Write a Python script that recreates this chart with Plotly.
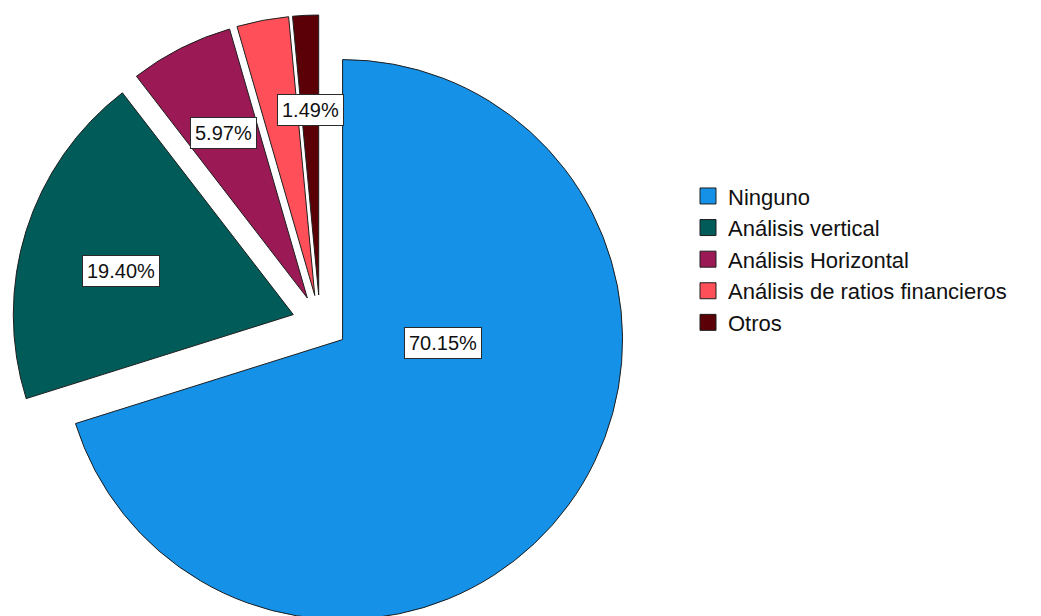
import math
import plotly.graph_objects as go

# Survey answers: which financial-analysis technique is used
categories = ["Ninguno", "Análisis vertical", "Análisis Horizontal",
              "Análisis de ratios financieros", "Otros"]
percentages = [70.15, 19.40, 5.97, 2.99, 1.49]
label_texts = ["70.15%", "19.40%", "5.97%", None, "1.49%"]

colors = ["#1591E8", "#005B59", "#9B1A55", "#FF4F58", "#5C0008"]
EDGE = "#1e1e1e"

# Figure / pie geometry
W, H = 1041, 631
M_TOP = 15
PULL = 0.1
DOMAIN_X = [0.0, 640 / W]

# Label placement inside each slice: (fraction across the slice angle, fraction of radius)
label_place = [(0.364, 0.36), (0.454, 0.635), (0.5, 0.66), None, (0.5, 0.66)]

fig = go.Figure()
fig.add_trace(go.Pie(
    labels=categories,
    values=percentages,
    sort=False,
    direction="clockwise",
    rotation=0,
    pull=[PULL] * len(categories),
    textinfo="none",
    hoverinfo="label+percent",
    marker=dict(colors=colors, line=dict(color=EDGE, width=1)),
    domain=dict(x=DOMAIN_X, y=[0, 1]),
    showlegend=False,
))

# Legend entries with larger square swatches
for name, col in zip(categories, colors):
    fig.add_trace(go.Scatter(
        x=[None], y=[None], mode="markers", name=name,
        marker=dict(symbol="square", size=16, color=col,
                    line=dict(color=EDGE, width=1)),
        hoverinfo="skip",
    ))

# Pie geometry as plotly lays it out, used to anchor the percentage boxes
plot_w, plot_h = W, H - M_TOP
rx = plot_w * (DOMAIN_X[1] - DOMAIN_X[0]) / 2
ry = plot_h / 2
r = min(rx, ry) / (1 + PULL)
cx = plot_w * (DOMAIN_X[0] + DOMAIN_X[1]) / 2
cy = M_TOP + plot_h / 2

total = sum(percentages)
start = 0.0
annotations = []
for val, txt, place in zip(percentages, label_texts, label_place):
    span = 360.0 * val / total
    if txt is not None and place is not None:
        mid = math.radians(start + span / 2)
        vx = cx + PULL * r * math.sin(mid)
        vy = cy - PULL * r * math.cos(mid)
        frac, rad = place
        a = math.radians(start + frac * span)
        px = vx + rad * r * math.sin(a)
        py = vy - rad * r * math.cos(a)
        annotations.append(dict(
            x=px / W, y=1 - (py - M_TOP) / plot_h,
            xref="paper", yref="paper",
            xanchor="center", yanchor="middle",
            text=txt, showarrow=False,
            font=dict(family="Liberation Sans, Arial", size=20, color="#111"),
            bgcolor="white", bordercolor="#2a2a2a", borderwidth=1, borderpad=4,
        ))
    start += span

fig.update_layout(
    width=W, height=H,
    margin=dict(l=0, r=0, t=M_TOP, b=0),
    paper_bgcolor="white",
    plot_bgcolor="white",
    xaxis=dict(visible=False),
    yaxis=dict(visible=False),
    annotations=annotations,
    legend=dict(
        x=688 / W, y=0.740, xanchor="left", yanchor="top",
        font=dict(family="Liberation Sans, Arial", size=22, color="#111"),
        bgcolor="rgba(0,0,0,0)",
        traceorder="normal",
        itemsizing="trace",
    ),
    showlegend=True,
)

fig.write_html(
    "out.html",
    post_script="document.documentElement.style.overflow='hidden';"
                "document.body.style.overflow='hidden';",
)
